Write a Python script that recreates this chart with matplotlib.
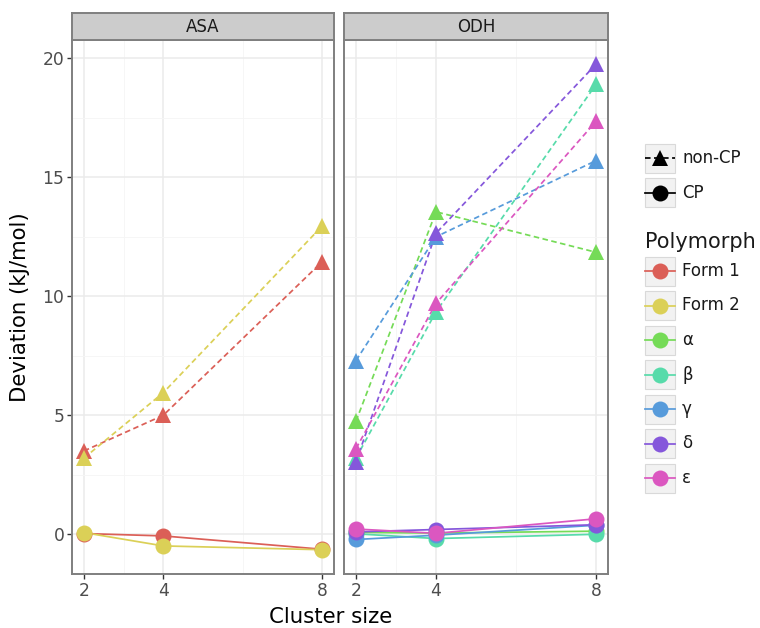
import colorsys
import numpy as np
import matplotlib
matplotlib.use("Agg")
import matplotlib.pyplot as plt
from matplotlib.patches import Rectangle
from matplotlib.lines import Line2D

plt.rcParams['font.family'] = ['DejaVu Sans']

# ---------------- data ----------------
cluster_size = [2, 4, 8]
polymorphs = ['Form 1', 'Form 2', 'α', 'β', 'γ', 'δ', 'ε']
facets = ['ASA', 'ODH']
facet_members = {'ASA': ['Form 1', 'Form 2'],
                 'ODH': ['α', 'β', 'γ', 'δ', 'ε']}

noncp_form1 = [3.5, 5.0, 11.45]
noncp_form2 = [3.2, 5.95, 12.95]
noncp_alpha = [4.75, 13.55, 11.85]
noncp_beta = [3.2, 9.35, 18.9]
noncp_gamma = [7.3, 12.5, 15.7]
noncp_delta = [3.05, 12.65, 19.75]
noncp_epsilon = [3.6, 9.7, 17.35]

cp_form1 = [0.03, -0.07, -0.63]
cp_form2 = [0.07, -0.49, -0.65]
cp_alpha = [0.08, 0.05, 0.13]
cp_beta = [0.02, -0.18, 0.0]
cp_gamma = [-0.22, -0.04, 0.38]
cp_delta = [0.1, 0.2, 0.4]
cp_epsilon = [0.22, 0.04, 0.65]

noncp = dict(zip(polymorphs, [noncp_form1, noncp_form2, noncp_alpha, noncp_beta,
                              noncp_gamma, noncp_delta, noncp_epsilon]))
cp = dict(zip(polymorphs, [cp_form1, cp_form2, cp_alpha, cp_beta,
                           cp_gamma, cp_delta, cp_epsilon]))

y_ticks = [0, 5, 10, 15, 20]
x_ticks = [2, 4, 8]

# hls palette (h=.01, l=.6, s=.65)
hues = (np.linspace(0, 1, len(polymorphs) + 1)[:-1] + 0.01) % 1
colors = dict(zip(polymorphs, [colorsys.hls_to_rgb(h, 0.6, 0.65) for h in hues]))

# ---------------- layout ----------------
W, H = 760, 628
fig = plt.figure(figsize=(W / 100, H / 100), dpi=100)

def fa(x0, y0, x1, y1):
    return [x0 / W, 1 - y1 / H, (x1 - x0) / W, (y1 - y0) / H]

panel_px = {'ASA': (72, 40, 334, 574), 'ODH': (344, 40, 608, 574)}
border_col = '#7f7f7f'

all_y = [v for d in (noncp, cp) for s in d.values() for v in s]
yr = max(all_y) - min(all_y)
ylim = (min(all_y) - 0.05 * yr, max(all_y) + 0.05 * yr)
xr = max(cluster_size) - min(cluster_size)
xlim = (min(cluster_size) - 0.05 * xr, max(cluster_size) + 0.05 * xr)

line_lw = 1.25
dash = (0, (3.2, 2.0))
ms = 11.5

for fi, facet in enumerate(facets):
    x0, y0, x1, y1 = panel_px[facet]
    ax = fig.add_axes(fa(x0, y0, x1, y1))
    ax.set_xlim(*xlim)
    ax.set_ylim(*ylim)
    ax.set_xticks(x_ticks)
    ax.set_xticks([3, 6], minor=True)
    ax.set_yticks(y_ticks)
    ax.set_yticks([2.5, 7.5, 12.5, 17.5], minor=True)
    ax.grid(which='major', color='#ebebeb', lw=1.1, zorder=0)
    ax.grid(which='minor', color='#f5f5f5', lw=0.6, zorder=0)
    ax.set_axisbelow(True)
    for sp in ax.spines.values():
        sp.set_color(border_col)
        sp.set_linewidth(1.4)
    ax.tick_params(which='major', length=3.5, width=1, color='#333333',
                   labelcolor='#4d4d4d', labelsize=12.3, pad=2)
    ax.tick_params(which='minor', length=0)
    if fi > 0:
        ax.tick_params(axis='y', labelleft=False, length=0)
    for p in facet_members[facet]:
        c = colors[p]
        ax.plot(cluster_size, noncp[p], color=c, lw=line_lw, ls=dash, zorder=3)
        ax.plot(cluster_size, cp[p], color=c, lw=line_lw, ls='-', zorder=3)
    for p in facet_members[facet]:
        c = colors[p]
        ax.plot(cluster_size, noncp[p], ls='none', marker='^', ms=ms + 0.5, color=c,
                mec=c, mew=0, zorder=4)
        ax.plot(cluster_size, cp[p], ls='none', marker='o', ms=ms, color=c,
                mec=c, mew=0, zorder=4)
    # strip
    sax = fig.add_axes(fa(x0, 13, x1, 40))
    sax.set_xticks([]); sax.set_yticks([])
    sax.set_facecolor('#cccccc')
    for sp in sax.spines.values():
        sp.set_color(border_col)
        sp.set_linewidth(1.4)
    sax.text(0.5, 0.5, facet, ha='center', va='center', fontsize=12, color='#1a1a1a',
             transform=sax.transAxes)

fig.text(331 / W, 1 - 617 / H, 'Cluster size', ha='center', va='center', fontsize=15.3)
fig.text(20 / W, 1 - 307 / H, 'Deviation (kJ/mol)', ha='center', va='center',
         rotation=90, fontsize=15.3)

# ---------------- legends ----------------
lax = fig.add_axes([0, 0, 1, 1])
lax.set_xlim(0, W)
lax.set_ylim(H, 0)
lax.axis('off')

def key_box(yc):
    lax.add_patch(Rectangle((645, yc - 14.5), 30, 29, facecolor='#f2f2f2',
                            edgecolor='#d9d9d9', lw=0.8, zorder=1))

shape_entries = [('non-CP', '^', dash, 158),
                 ('CP', 'o', '-', 192.5)]
for lab, mk, ls, yc in shape_entries:
    key_box(yc)
    lax.add_line(Line2D([645, 675], [yc, yc], color='black', lw=line_lw, ls=ls, zorder=2))
    lax.add_line(Line2D([660], [yc], color='black', marker=mk, ms=ms + (0.5 if mk == '^' else 0),
                        mew=0, ls='none', zorder=3))
    lax.text(682, yc, lab, ha='left', va='center', fontsize=12, color='#1a1a1a')

lax.text(645, 242, 'Polymorph', ha='left', va='center', fontsize=15, color='#1a1a1a')
for i, p in enumerate(polymorphs):
    yc = 271 + i * 34.5
    key_box(yc)
    c = colors[p]
    lax.add_line(Line2D([645, 675], [yc, yc], color=c, lw=line_lw, zorder=2))
    lax.add_line(Line2D([660], [yc], color=c, marker='o', ms=ms, mew=0, ls='none', zorder=3))
    lax.text(682, yc, p, ha='left', va='center', fontsize=12, color='#1a1a1a')

fig.savefig('out.png', dpi=100, facecolor='white')
